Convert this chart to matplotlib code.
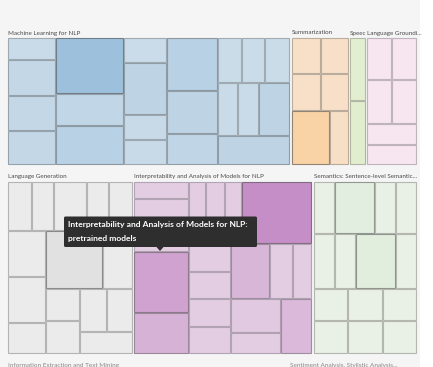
import matplotlib
matplotlib.use("Agg")
import matplotlib.pyplot as plt
from matplotlib.patches import Rectangle, FancyBboxPatch, Polygon
from matplotlib.colors import to_rgb

# tile sizes, nested: each level alternates split direction
ml_sizes = [[106, 170, 168, 162],
            [376, 219, 266],
            [108, 222, 108, 111],
            [270, 217, 162],
            [[108, 104, 112], [110, 112, 166], 213]]
summ_sizes = [[108, 104], [110, 106], [211, 104]]
speech_sizes = [104, 106]
ground_sizes = [[107, 104], [115, 112], 103, 105]
gen_sizes = [[115, 111, 165, 111, 118],
             [[172, 173, 115],
              [[334, 172], [[113, 114], [[116, 115], 115]]]]]
interp_sizes = [[90, 290, 332, 221],
                [[108, 120, 108, 440],
                 [[117, 113, 120, 113],
                  [[217, 121, 109], [[175, 105], 172]]]]]
sem_sizes = [[111, 214, 110, 108],
             [116, 114, 221, 114],
             [112, 115, 110],
             [113, 115, 111]]

# colour score of each tile, in layout order
ml_scores = [0.12, 0.25, 0.25, 0.25, 1.0, 0.28, 0.45, 0.1, 0.35, 0.15, 0.15,
             0.45, 0.35, 0.3, 0.08, 0.08, 0.08, 0.12, 0.12, 0.35, 0.35]
summ_scores = [0.1, 0.1, 0.1, 0.1, 1.0, 0.15]
speech_scores = [0.0, 0.1]
ground_scores = [0, 0, 0, 0, 0, 0]
gen_scores = [0.1] * 8 + [1.0] + [0.1] * 6
interp_scores = [0.05, 0.05, 0.7, 0.45, 0.05, 0.05, 0.05, 1.0,
                 0.05, 0.05, 0.05, 0.05, 0.4, 0.05, 0.05, 0.1, 0.05, 0.35]
sem_scores = [0.1, 0.8, 0.1, 0.1, 0.1, 0.1, 0.9, 0.1] + [0.1] * 6

groups_top = [("Machine Learning for NLP", ml_sizes, ml_scores, True, "#cfdeea", "#9dc1dd"),
              ("Summarization", summ_sizes, summ_scores, False, "#f7e1cb", "#f9d3a6"),
              ("Speec", speech_sizes, speech_scores, False, "#e3edcf", "#dcebc4"),
              ("Language Groundi...", ground_sizes, ground_scores, False, "#f7e5f0", "#f3d9ea")]
groups_bottom = [("Language Generation", gen_sizes, gen_scores, False, "#ececec", "#e1e1e1"),
                 ("Interpretability and Analysis of Models for NLP", interp_sizes, interp_scores, True, "#e4d0e4", "#c68ec6"),
                 ("Semantics: Sentence-level Semantic...", sem_sizes, sem_scores, False, "#eaf0e6", "#e0eedd")]


def total(node):
    if isinstance(node, (int, float)):
        return node
    return sum(total(c) for c in node)


def layout(node, x, y, w, h, horiz, out):
    if isinstance(node, (int, float)):
        out.append((x, y, w, h))
        return
    tot = total(node)
    pos = 0
    for child in node:
        f = total(child) / tot
        if horiz:
            layout(child, x + pos * w, y, f * w, h, not horiz, out)
        else:
            layout(child, x, y + pos * h, w, f * h, not horiz, out)
        pos += f


def mix(a, b, t):
    a, b = to_rgb(a), to_rgb(b)
    return tuple(a[i] + (b[i] - a[i]) * t for i in range(3))


fig = plt.figure(figsize=(4.33, 3.67), dpi=100)
ax = fig.add_axes([0, 0, 1, 1])
ax.set_xlim(0, 433)
ax.set_ylim(367, 0)
ax.axis("off")
ax.add_patch(Rectangle((0, 0), 420, 367, facecolor="#f5f5f5", edgecolor="none"))

x0, x1 = 7.3, 416.7
y_top = 37.7
header = 16.7
rows = [groups_top, groups_bottom]
row_tot = [sum(total(g[1]) for g in r) for r in rows]
avail = 353.3 - y_top - header
label_font = ["Lato", "DejaVu Sans"]

y = y_top
for r, rt in zip(rows, row_tot):
    rh = avail * rt / sum(row_tot)
    gx = x0
    for name, sizes, scores, horiz, light, dark in r:
        gw = (x1 - x0) * total(sizes) / rt
        ax.text(gx + 1, y - 2.2, name, fontsize=4.5, color="#4a4a4a",
                family=label_font, va="bottom", ha="left")
        rects = []
        layout(sizes, gx + 0.6, y, gw - 1.2, rh, horiz, rects)
        for (rx, ry, rw, rhh), s in zip(rects, scores):
            fc = mix(light, dark, s)
            ec = mix(fc, "#5a5a5a", 0.35 + 0.3 * s)
            ax.add_patch(Rectangle((rx + 0.5, ry + 0.5), rw - 1, rhh - 1,
                                   facecolor=fc, edgecolor=ec, linewidth=0.8))
        gx += gw
    y += rh + header

# next row of groups, cut off by the bottom edge
ax.text(8, 363.5, "Information Extraction and Text Mining", fontsize=4.6,
        color="#888888", family=label_font, va="top")
ax.text(290, 363.5, "Sentiment Analysis, Stylistic Analysis...", fontsize=4.6,
        color="#888888", family=label_font, va="top")

# tooltip
ax.add_patch(FancyBboxPatch((64, 216.5), 193, 30.5, boxstyle="round,pad=0,rounding_size=1.5",
                            facecolor="#2e2e2e", edgecolor="none", zorder=5))
ax.add_patch(Polygon([(156.5, 247), (163.5, 247), (160, 251)], closed=True,
                     facecolor="#2e2e2e", edgecolor="none", zorder=5))
tip_font = ["Lato", "DejaVu Sans"]
ax.text(68, 224.5, "Interpretability and Analysis of Models for NLP:", fontsize=6.1,
        color="white", weight="bold", family=tip_font, va="center", zorder=6)
ax.text(68, 238.5, "pretrained models", fontsize=6.1, color="white",
        weight="bold", family=tip_font, va="center", zorder=6)

fig.savefig("out.png", dpi=100)
